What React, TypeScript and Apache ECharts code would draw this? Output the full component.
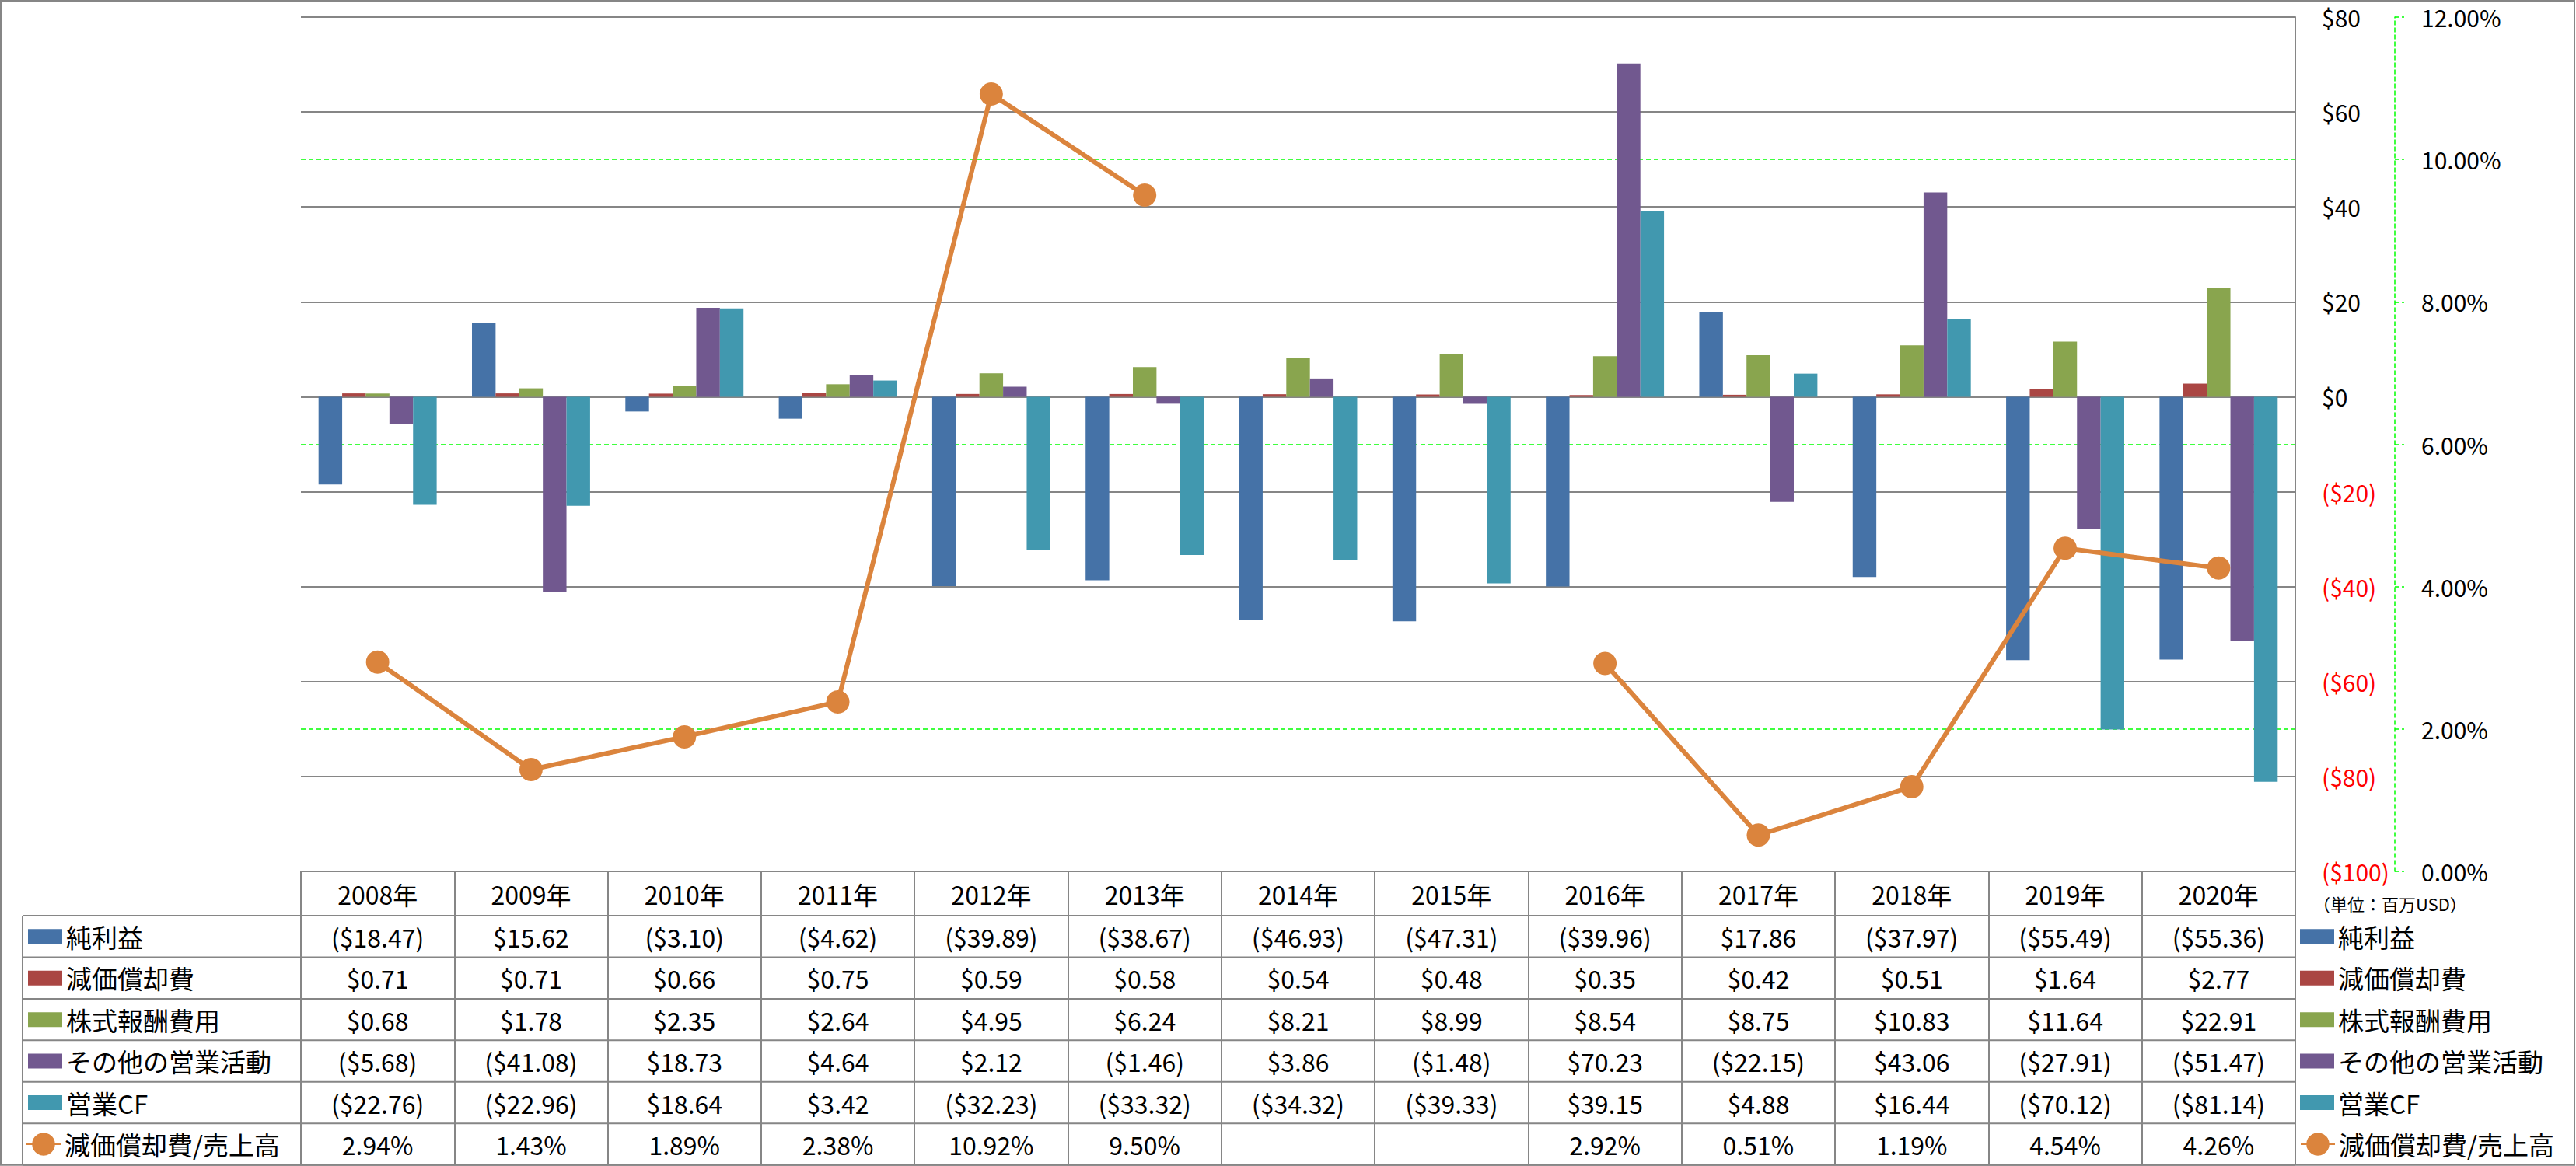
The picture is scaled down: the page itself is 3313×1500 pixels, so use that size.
import React, { useEffect, useRef } from 'react';
import * as echarts from 'echarts';

const categories = ['2008年', '2009年', '2010年', '2011年', '2012年', '2013年', '2014年', '2015年', '2016年', '2017年', '2018年', '2019年', '2020年'];
const netIncome = [-18.47, 15.62, -3.10, -4.62, -39.89, -38.67, -46.93, -47.31, -39.96, 17.86, -37.97, -55.49, -55.36];
const depreciation = [0.71, 0.71, 0.66, 0.75, 0.59, 0.58, 0.54, 0.48, 0.35, 0.42, 0.51, 1.64, 2.77];
const stockComp = [0.68, 1.78, 2.35, 2.64, 4.95, 6.24, 8.21, 8.99, 8.54, 8.75, 10.83, 11.64, 22.91];
const otherOps = [-5.68, -41.08, 18.73, 4.64, 2.12, -1.46, 3.86, -1.48, 70.23, -22.15, 43.06, -27.91, -51.47];
const operatingCF = [-22.76, -22.96, 18.64, 3.42, -32.23, -33.32, -34.32, -39.33, 39.15, 4.88, 16.44, -70.12, -81.14];
const depRatio: (number | null)[] = [2.94, 1.43, 1.89, 2.38, 10.92, 9.50, null, null, 2.92, 0.51, 1.19, 4.54, 4.26];

const barNames = ['純利益', '減価償却費', '株式報酬費用', 'その他の営業活動', '営業CF'];
const lineName = '減価償却費/売上高';
const unitText = '（単位：百万USD）';

const barColors = ['#4572A7', '#AA4643', '#89A54E', '#71588F', '#4198AF'];
const lineColor = '#DB843D';
const GRAY = '#868686';
const GREEN = '#00FF00';
const FONT = '"Noto Sans CJK JP", "Noto Sans", sans-serif';

const W = 3313;
const H = 1500;
const PLOT_L = 387;
const PLOT_T = 22;
const PLOT_R = 2952;
const PLOT_B = 1121;
const HEADER_B = 1178;
const ROW_H = 53.45;
const TABLE_B = HEADER_B + ROW_H * 6;
const TABLE_L = 29;

const money = (v: number) => (v < 0 ? `($${(-v).toFixed(2)})` : `$${v.toFixed(2)}`);
const pct = (v: number | null) => (v == null ? '' : `${v.toFixed(2)}%`);

export default function App() {
  const ref = useRef<HTMLDivElement>(null);

  useEffect(() => {
    if (!ref.current) return;
    const chart = echarts.init(ref.current, undefined, { renderer: 'svg' });
    const barData = [netIncome, depreciation, stockComp, otherOps, operatingCF];
    const rowTexts: string[][] = [...barData.map((a) => a.map(money)), depRatio.map(pct)];

    const baseX: any = {
      type: 'category',
      data: categories,
      gridIndex: 0,
      position: 'bottom',
      axisLine: { show: false, onZero: false },
      axisTick: { show: false },
      splitLine: { show: false },
    };
    const labelBase = { fontFamily: FONT, fontSize: 32, color: '#000', verticalAlign: 'middle', interval: 0 };

    const xAxis: any[] = [
      {
        ...baseX,
        axisLine: { show: true, onZero: false, lineStyle: { color: GRAY, width: 2 } },
        axisTick: { show: true, interval: 0, length: TABLE_B - PLOT_B, lineStyle: { color: GRAY, width: 2 } },
        axisLabel: { ...labelBase, margin: (PLOT_B + HEADER_B) / 2 - PLOT_B },
      },
      ...rowTexts.map((texts, k) => ({
        ...baseX,
        axisLabel: {
          ...labelBase,
          margin: HEADER_B + ROW_H * (k + 0.5) - PLOT_B,
          formatter: (_v: string, i: number) => texts[i],
        },
      })),
    ];

    const legendBase: any = {
      orient: 'vertical',
      padding: 0,
      itemGap: 0,
      selectedMode: false,
      textStyle: { fontFamily: FONT, fontSize: 33, color: '#000', lineHeight: ROW_H },
    };

    const hLines = Array.from({ length: 7 }, (_, k) => ({
      type: 'line',
      shape: { x1: TABLE_L, y1: HEADER_B + ROW_H * k, x2: PLOT_R, y2: HEADER_B + ROW_H * k },
      style: { stroke: GRAY, lineWidth: 2 },
      z: 10,
    }));

    chart.setOption({
      animation: false,
      backgroundColor: '#fff',
      grid: { left: PLOT_L, top: PLOT_T, width: PLOT_R - PLOT_L, height: PLOT_B - PLOT_T, containLabel: false },
      xAxis,
      yAxis: [
        {
          type: 'value',
          min: -100,
          max: 80,
          interval: 20,
          position: 'right',
          z: 1,
          axisLine: { show: true, lineStyle: { color: GRAY, width: 2 } },
          axisTick: { show: false },
          splitLine: { show: true, lineStyle: { color: GRAY, width: 2 } },
          axisLabel: {
            margin: 34,
            fontFamily: FONT,
            fontSize: 30,
            lineHeight: 30,
            color: (v: any) => (Number(v) < 0 ? '#FF0000' : '#000'),
            formatter: (v: number) => (v < 0 ? `($${-v})` : `$${v}`),
          },
        },
        {
          type: 'value',
          min: 0,
          max: 12,
          interval: 2,
          position: 'right',
          offset: 128,
          z: 0,
          axisLine: { show: true, lineStyle: { color: GREEN, width: 1.5, type: [5, 4] } },
          axisTick: { show: true, length: 12, lineStyle: { color: GREEN, width: 1.5, type: [5, 4] } },
          splitLine: { show: true, lineStyle: { color: GREEN, width: 1.5, type: [6, 4] } },
          axisLabel: {
            margin: 34,
            fontFamily: FONT,
            fontSize: 30,
            lineHeight: 30,
            color: '#000',
            formatter: (v: number) => `${v.toFixed(2)}%`,
          },
        },
      ],
      legend: [
        { ...legendBase, data: barNames, left: 36, top: HEADER_B, itemWidth: 44, itemHeight: 19, icon: 'rect' },
        { ...legendBase, data: [lineName], left: 33, top: HEADER_B + ROW_H * 5, itemWidth: 44, itemHeight: 37 },
        { ...legendBase, data: barNames, left: 2958, top: HEADER_B, itemWidth: 44, itemHeight: 19, icon: 'rect' },
        { ...legendBase, data: [lineName], left: 2958, top: HEADER_B + ROW_H * 5, itemWidth: 44, itemHeight: 37 },
      ],
      series: [
        ...barNames.map((name, i) => ({
          type: 'bar',
          name,
          data: barData[i],
          xAxisIndex: 0,
          yAxisIndex: 0,
          barGap: '0%',
          barCategoryGap: '23%',
          itemStyle: { color: barColors[i] },
        })),
        {
          type: 'line',
          name: lineName,
          data: depRatio,
          xAxisIndex: 0,
          yAxisIndex: 1,
          symbol: 'circle',
          symbolSize: 30,
          connectNulls: false,
          lineStyle: { color: lineColor, width: 6 },
          itemStyle: { color: lineColor },
          z: 5,
        },
      ],
      graphic: [
        {
          type: 'rect',
          shape: { x: 1, y: 1, width: W - 3, height: TABLE_B - 1 },
          style: { fill: 'none', stroke: GRAY, lineWidth: 2 },
          z: 10,
        },
        ...hLines,
        {
          type: 'line',
          shape: { x1: TABLE_L, y1: HEADER_B, x2: TABLE_L, y2: TABLE_B },
          style: { stroke: GRAY, lineWidth: 2 },
          z: 10,
        },
        {
          type: 'text',
          x: 2975,
          y: 1162,
          style: { text: unitText, fontFamily: FONT, fontSize: 22, lineHeight: 22, fill: '#000', verticalAlign: 'middle', align: 'left' },
          z: 10,
        },
      ],
    });

    return () => chart.dispose();
  }, []);

  return (
    <div
      ref={ref}
      style={{ position: 'absolute', left: 0, top: 0, width: W, height: H, background: '#fff' }}
    />
  );
}
